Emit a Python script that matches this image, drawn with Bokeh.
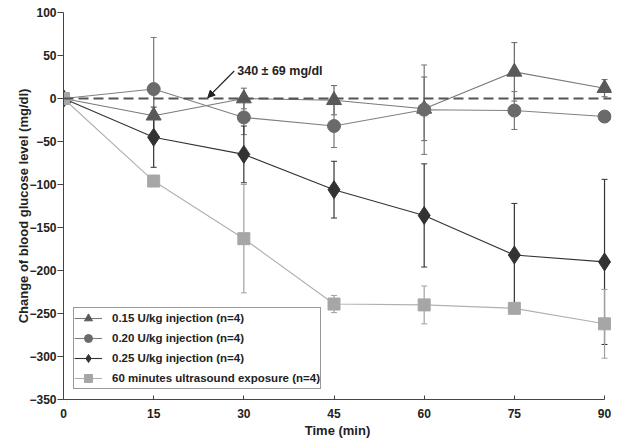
from bokeh.plotting import figure
from bokeh.models import (ColumnDataSource, Whisker, TeeHead, Span, Label, Arrow,
                          NormalHead, Legend, LegendItem, FixedTicker, Range1d)
from bokeh.embed import file_html
from bokeh.resources import INLINE

time = [0, 15, 30, 45, 60, 75, 90]
tri = [0, -20, 0, -2, -12, 31, 12]
tri_err = [0, 25, 12, 17, 37, 34, 10]
circ = [0, 11, -22, -32, -13, -14, -21]
circ_err = [0, 60, 20, 25, 52, 22, 4]
dia = [0, -45, -65, -106, -136, -182, -190]
dia_err = [0, 35, 33, 33, 60, 60, 96]
sq = [0, -96, -163, -239, -240, -244, -262]
sq_err = [0, 3, 63, 10, 22, 6, 40]

labels = ["0.15 U/kg injection (n=4)", "0.20 U/kg injection (n=4)",
          "0.25 U/kg injection (n=4)", "60 minutes ultrasound exposure (n=4)"]
x_ticks = [0, 15, 30, 45, 60, 75, 90]
y_ticks = [100, 50, 0, -50, -100, -150, -200, -250, -300, -350]
annotation_text = "340 \u00b1 69 mg/dl"
arrow_start = (28.4, 32)
arrow_end = (24.0, 1)

FONT = "Liberation Sans"

p = figure(width=619, height=444, output_backend="svg", toolbar_location=None,
           x_range=Range1d(0, 91.16), y_range=Range1d(-350, 100),
           min_border_left=63, min_border_top=12, min_border_right=8, min_border_bottom=45)
p.grid.visible = False
p.outline_line_color = None
p.background_fill_color = "white"

p.xaxis.ticker = FixedTicker(ticks=x_ticks)
p.yaxis.ticker = FixedTicker(ticks=y_ticks)
p.xaxis.bounds = (0, 90)
for ax in (p.xaxis, p.yaxis):
    ax.axis_line_color = "#444444"
    ax.major_tick_line_color = "#444444"
    ax.minor_tick_line_color = None
    ax.major_label_text_font = FONT
    ax.major_label_text_font_style = "bold"
    ax.major_label_text_font_size = "12px"
    ax.major_label_text_color = "#222222"
    ax.axis_label_text_font = FONT
    ax.axis_label_text_font_style = "bold"
    ax.axis_label_text_font_size = "13px"
    ax.axis_label_text_color = "#222222"
p.xaxis.major_tick_in = 4
p.xaxis.major_tick_out = 0
p.yaxis.major_tick_in = 0
p.yaxis.major_tick_out = 6
p.xaxis.major_label_standoff = 9
p.yaxis.major_label_standoff = 1
p.xaxis.axis_label = "Time (min)"
p.yaxis.axis_label = "Change of blood glucose level (mg/dl)"
p.xaxis.axis_label_standoff = 2
p.yaxis.axis_label_standoff = -5

p.add_layout(Span(location=0, dimension="width", line_color="#555555",
                  line_width=2, line_dash="10 5"))

series = [
    (tri, tri_err, "triangle", "#595959", "#7a7a7a", "#666666", 15),
    (circ, circ_err, "circle", "#6a6a6a", "#808080", "#777777", 13),
    (dia, dia_err, "diamond", "#333333", "#333333", "#333333", 18),
    (sq, sq_err, "square", "#a6a6a6", "#b0b0b0", "#a0a0a0", 12),
]

items = []
for (vals, errs, marker, fill, linec, errc, size), lab in zip(series, labels):
    src = ColumnDataSource(dict(x=time, y=vals,
                                upper=[v + e for v, e in zip(vals, errs)],
                                lower=[v - e for v, e in zip(vals, errs)]))
    ln = p.line("x", "y", source=src, line_color=linec, line_width=1.1)
    w = Whisker(base="x", upper="upper", lower="lower", source=src,
                line_color=errc, line_width=1.2,
                upper_head=TeeHead(size=6, line_color=errc, line_width=1),
                lower_head=TeeHead(size=6, line_color=errc, line_width=1))
    p.add_layout(w)
    sc = p.scatter("x", "y", source=src, marker=marker, size=size,
                   fill_color=fill, line_color=fill)
    items.append(LegendItem(label=lab, renderers=[ln, sc]))

legend = Legend(items=items, location=(10, 10), border_line_color="#333333",
                border_line_width=1, padding=0, spacing=0, label_height=20,
                glyph_height=20, glyph_width=28, label_standoff=10,
                label_text_font=FONT, label_text_font_style="bold",
                label_text_font_size="11.5px", label_text_color="#222222",
                background_fill_alpha=1)
p.add_layout(legend)

p.add_layout(Label(x=arrow_start[0], y=arrow_start[1], text=annotation_text,
                   text_font=FONT, text_font_style="bold", text_font_size="12.5px",
                   text_color="#222222", text_baseline="middle", x_offset=3, y_offset=0))
p.add_layout(Arrow(end=NormalHead(size=7, fill_color="#222222", line_color="#222222"),
                   x_start=arrow_start[0], y_start=arrow_start[1],
                   x_end=arrow_end[0], y_end=arrow_end[1],
                   line_color="#222222", line_width=1.2))

open("out.html", "w").write(file_html(p, INLINE))
